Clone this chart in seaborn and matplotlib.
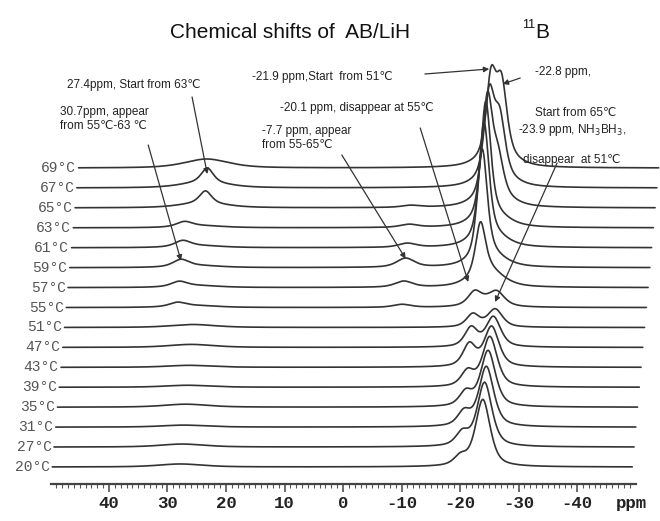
import numpy as np
import pandas as pd
import matplotlib
matplotlib.use("Agg")
import matplotlib.pyplot as plt
import seaborn as sns

# ---------------- data ----------------
temps = [20, 27, 31, 35, 39, 43, 47, 51, 55, 57, 59, 61, 63, 65, 67, 69]
temp_labels = [f"{t}°C" for t in temps]

# peak table: position (ppm) and amplitude of each component per temperature
nh3bh3_ppm = -23.9
nh3bh3_amp = [67, 64, 60, 56, 50, 40, 30, 18, 12, 0, 0, 0, 0, 0, 0, 0]
p201_ppm = -20.1
p201_amp = [9, 13, 14, 14, 15, 22, 19, 13, 12, 0, 0, 0, 0, 0, 0, 0]
p219_ppm = -20.8
p219_amp = [0, 0, 0, 0, 0, 0, 0, 0, 0, 50, 108, 115, 116, 98, 80, 75]
p228_ppm = -22.6
p228_amp = [0, 0, 0, 0, 0, 0, 0, 0, 0, 0, 0, 0, 0, 35, 55, 70]
base_ppm = -22.0
base_amp = [0, 0, 0, 0, 0, 0, 0, 0, 6, 18, 12, 12, 12, 12, 12, 12]
p77_ppm = -7.7
p77_amp = [0, 0, 0, 0, 0, 0, 0, 0, 3, 6, 9, 4, 3, 2, 0, 0]
p307_ppm = 30.7
p307_amp = [0, 0, 0, 0, 0, 0, 0, 0, 4, 5, 7, 6, 5, 0, 0, 0]
p274_ppm = 27.4
p274_amp = [0, 0, 0, 0, 0, 0, 0, 0, 0, 0, 0, 0, 0, 12, 14, 0]
hump_ppm = 27.8
hump_amp = [3, 3, 2, 3, 2, 2, 3, 3, 2, 2, 2, 2, 2, 5, 6, 9]

tick_values = [40, 30, 20, 10, 0, -10, -20, -30, -40]
tick_labels = ["40", "30", "20", "10", "0", "-10", "-20", "-30", "-40"]

title_text = "Chemical shifts of  AB/LiH"

# ---------------- build spectra ----------------
components = [
    (nh3bh3_ppm, nh3bh3_amp, 1.5),
    (p201_ppm, p201_amp, 1.3),
    (p219_ppm, p219_amp, 1.0),
    (p228_ppm, p228_amp, 1.1),
    (base_ppm, base_amp, 3.0),
    (p77_ppm, p77_amp, 1.8),
    (p307_ppm, p307_amp, 1.6),
    (p274_ppm, p274_amp, 1.2),
    (hump_ppm, hump_amp, 4.5),
]


def pvoigt(x, c, w, eta=0.6):
    d = ((x - c) / w) ** 2
    return eta / (1 + d) + (1 - eta) * np.exp(-np.log(2) * d)


grid = np.arange(49.7, -49.5, -0.05)
skew = 0.30      # ppm shift per stacked trace (pseudo-3D)
spacing = 19.93  # vertical offset per trace

frames = []
for i, t in enumerate(temps):
    y = np.zeros_like(grid)
    for c, amps, w in components:
        if amps[i]:
            y += amps[i] * pvoigt(grid, c, w)
    frames.append(pd.DataFrame({"ppm": grid - skew * i,
                                "y": y + spacing * i,
                                "temp": t}))
df = pd.concat(frames, ignore_index=True)

# ---------------- plot ----------------
sns.set_style("white")
plt.rcParams["font.family"] = ["Liberation Sans", "DejaVu Sans"]

W, H = 660, 521
fig = plt.figure(figsize=(6.6, 5.21), dpi=100)
ax = fig.add_axes([50.5 / W, (521 - 484) / H, 585 / W, 444 / H])

sns.lineplot(data=df, x="ppm", y="y", units="temp", estimator=None,
             sort=False, color="#333333", linewidth=1.2, ax=ax, legend=False)
for ln in ax.lines:
    ln.set_clip_on(False)

ax.set_xlim(50, -50)
ax.set_ylim(-17, 427)
for s in ["left", "top", "right"]:
    ax.spines[s].set_visible(False)
ax.spines["bottom"].set_color("#444444")
ax.spines["bottom"].set_linewidth(1.6)
ax.set_yticks([])
ax.set_xlabel("")
ax.set_ylabel("")
ax.set_xticks(tick_values)
ax.set_xticklabels(tick_labels, family="Liberation Mono", fontweight="bold",
                   fontsize=12.5, color="#222222")
ax.set_xticks(np.arange(-49, 50, 1), minor=True)
ax.tick_params(axis="x", which="both", bottom=True, top=False)
ax.tick_params(axis="x", which="major", direction="out", length=6, width=1.1,
               color="#444444", pad=3)
ax.tick_params(axis="x", which="minor", direction="out", length=3, width=0.8,
               color="#555555")
ax.text(-49.3, -36.5, "ppm", family="Liberation Mono", fontweight="bold",
        fontsize=12.5, color="#222222", ha="center", va="center")

# temperature labels at the start of each trace
for i, lab in enumerate(temp_labels):
    ax.text(grid[0] - skew * i + 0.4, spacing * i, lab, ha="right",
            va="center", family="Liberation Mono", fontsize=10.5,
            color="#555555", clip_on=False)

# ---------------- annotations ----------------
akw = dict(fontsize=8.5, color="#222222", ha="left", va="center")
arrow = dict(arrowstyle="-|>", color="#333333", lw=0.9, mutation_scale=8,
             shrinkA=0, shrinkB=0)


def ann(tail, tip):
    ax.annotate("", xy=tip, xytext=tail, arrowprops=arrow,
                annotation_clip=False)


ax.text(47.2, 382, "27.4ppm, Start from 63℃", **akw)
ann((25.8, 370), (p274_ppm - skew * 14, spacing * 14 + 14))

ax.text(48.4, 348, "30.7ppm, appear\nfrom 55℃-63 ℃", linespacing=1.15, **akw)
ann((33.3, 322), (p307_ppm - skew * 10, spacing * 10 + 7))

ax.text(13.8, 329, "-7.7 ppm, appear\nfrom 55-65℃", linespacing=1.15, **akw)
ann((0.2, 312), (p77_ppm - skew * 10, spacing * 10 + 9))

ax.text(15.6, 390, "-21.9 ppm,Start  from 51℃", **akw)
ann((-14.0, 393), (-25.0, 398))

ax.text(10.8, 359, "-20.1 ppm, disappear at 55℃", **akw)
ann((-13.2, 339), (-21.4, 185))

ax.text(-32.8, 395, "-22.8 ppm,", **akw)
ann((-30.3, 389), (-27.3, 383))
ax.text(-32.8, 354, "Start from 65℃", **akw)
ax.text(-29.9, 337, "-23.9 ppm, NH$_3$BH$_3$,", **akw)
ax.text(-30.8, 307, "disappear  at 51℃", **akw)
ann((-36.6, 304), (-26.0, 165))

# title
fig.text(290 / W, 1 - 33 / H, title_text, fontsize=15, ha="center",
         va="center", color="#111111")
fig.text(522 / W, 1 - 25 / H, "11", fontsize=9, ha="left", va="center",
         color="#111111")
fig.text(535 / W, 1 - 33 / H, "B", fontsize=15, ha="left", va="center",
         color="#111111")

fig.savefig("out.png", dpi=100, facecolor="white")
